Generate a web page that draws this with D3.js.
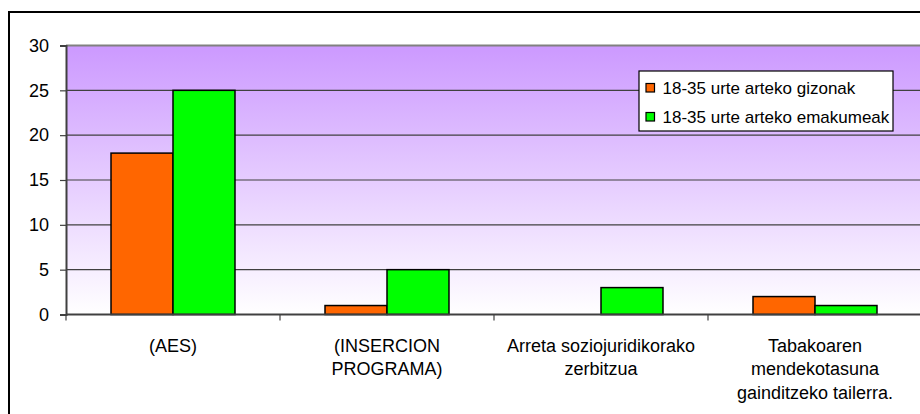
<!DOCTYPE html>
<html>
<head>
<meta charset="utf-8">
<script src="https://cdn.jsdelivr.net/npm/d3@7"></script>
<style>
  body { margin: 0; background: #fff; }
  svg { display: block; font-family: "Liberation Sans", Arial, sans-serif; }
</style>
</head>
<body>
<div class="js-chart"></div>
<script>
let categories = ['(AES)', '(INSERCION\nPROGRAMA)', 'Arreta soziojuridikorako\nzerbitzua', 'Tabakoaren\nmendekotasuna\ngainditzeko tailerra.'];
let seriesNames = ['18-35 urte arteko gizonak', '18-35 urte arteko emakumeak'];
let men = [18, 1, 0, 2];
let women = [25, 5, 3, 1];
let yTicks = [0, 5, 10, 15, 20, 25, 30];
let colors = ['#ff6600', '#00ff00'];

let w = 920;
let h = 414;
let plot = {left: 66, right: 922, top: 45.5, bottom: 314.5};

let svg = d3.select('.js-chart').append('svg').attr('width', w).attr('height', h);

let defs = svg.append('defs');
let grad = defs.append('linearGradient').attr('id', 'bg').attr('x1', 0).attr('y1', 0).attr('x2', 0).attr('y2', 1);
grad.append('stop').attr('offset', '0%').attr('stop-color', '#cc99ff');
grad.append('stop').attr('offset', '100%').attr('stop-color', '#ffffff');

// outer chart border (runs off the right and bottom edge)
svg.append('rect')
  .attr('x', 9).attr('y', 12).attr('width', w + 20).attr('height', h + 20)
  .style('fill', 'none').style('stroke', '#000').style('stroke-width', 2);

let x0 = d3.scaleBand().domain(categories).range([plot.left, plot.right]).padding(0);
let x1 = d3.scaleBand().domain(seriesNames).range([0, x0.bandwidth()]).paddingInner(0).paddingOuter(0.726);
let y = d3.scaleLinear().domain([0, 30]).range([plot.bottom, plot.top]);

svg.append('rect')
  .attr('x', plot.left).attr('y', plot.top)
  .attr('width', plot.right - plot.left).attr('height', plot.bottom - plot.top)
  .style('fill', 'url(#bg)');

// gridlines
svg.append('g').selectAll('line').data(yTicks.filter(d => d > 0)).enter().append('line')
  .attr('x1', plot.left).attr('x2', plot.right)
  .attr('y1', d => y(d)).attr('y2', d => y(d))
  .style('stroke', d => d === 30 ? '#808080' : '#404040')
  .style('stroke-width', d => d === 30 ? 2 : 1.2);

// y axis
let yAxis = svg.append('g')
  .attr('transform', `translate(${plot.left},0)`)
  .call(d3.axisLeft(y).tickValues(yTicks).tickSize(6).tickPadding(11).tickFormat(d3.format('d')));
yAxis.select('.domain').style('stroke', '#404040').style('stroke-width', 2);
yAxis.selectAll('.tick line').style('stroke', '#404040').style('stroke-width', 1.2);
yAxis.selectAll('.tick text').style('font-size', '18px').style('fill', '#000')
  .style('font-family', '"Liberation Sans", Arial, sans-serif');

// bars
let data = categories.map((c, i) => ({cat: c, vals: [men[i], women[i]]}));
let groups = svg.append('g').selectAll('g').data(data).enter().append('g')
  .attr('transform', d => `translate(${x0(d.cat)},0)`);
groups.selectAll('rect').data(d => d.vals.map((v, j) => ({name: seriesNames[j], v: v, j: j})).filter(d => d.v > 0))
  .enter().append('rect')
  .attr('x', d => x1(d.name))
  .attr('y', d => y(d.v))
  .attr('width', x1.bandwidth())
  .attr('height', d => y(0) - y(d.v))
  .style('fill', d => colors[d.j])
  .style('stroke', '#000')
  .style('stroke-width', 1.5);

// x axis
let xAxis = svg.append('g');
xAxis.append('line')
  .attr('x1', plot.left).attr('x2', plot.right)
  .attr('y1', y(0)).attr('y2', y(0))
  .style('stroke', '#404040').style('stroke-width', 2);
xAxis.selectAll('.xtick').data(categories.concat(['end'])).enter().append('line')
  .attr('class', 'xtick')
  .attr('x1', (d, i) => plot.left + i * x0.step()).attr('x2', (d, i) => plot.left + i * x0.step())
  .attr('y1', y(0)).attr('y2', y(0) + 6)
  .style('stroke', '#404040').style('stroke-width', 1.2);

let labels = xAxis.selectAll('.xlabel').data(categories).enter().append('text')
  .attr('class', 'xlabel')
  .attr('x', d => x0(d) + x0.bandwidth() / 2)
  .attr('y', 351.5)
  .attr('text-anchor', 'middle')
  .style('font-size', '18px')
  .style('fill', '#000');
labels.selectAll('tspan').data(d => d.split('\n')).enter().append('tspan')
  .attr('x', function() { return d3.select(this.parentNode).attr('x'); })
  .attr('dy', (d, i) => i === 0 ? 0 : 23.5)
  .text(d => d);

// legend
let legend = svg.append('g').attr('transform', 'translate(639,71)');
legend.append('rect')
  .attr('width', 254).attr('height', 60)
  .style('fill', '#fff').style('stroke', '#000').style('stroke-width', 1.2);
let items = legend.selectAll('.item').data(seriesNames).enter().append('g')
  .attr('class', 'item')
  .attr('transform', (d, i) => `translate(0,${17 + i * 29})`);
items.append('rect')
  .attr('x', 7).attr('y', -4.5).attr('width', 8.5).attr('height', 8.5)
  .style('fill', (d, i) => colors[i]).style('stroke', '#000').style('stroke-width', 1.2);
items.append('text')
  .attr('x', 23.5).attr('y', 6)
  .style('font-size', '17px')
  .text(d => d);
</script>
</body>
</html>
